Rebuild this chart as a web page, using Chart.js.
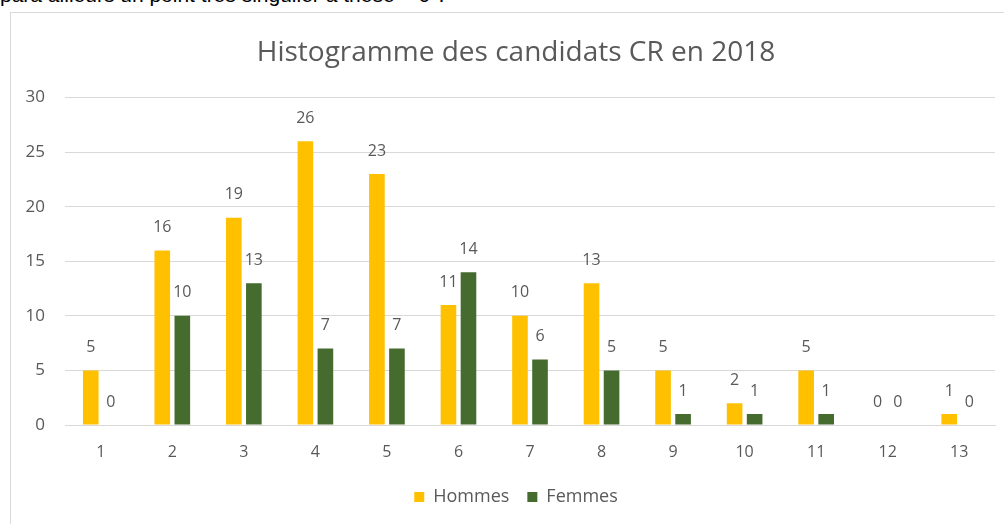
<!DOCTYPE html>
<html>
<head>
<meta charset="utf-8">
<script src="https://cdn.jsdelivr.net/npm/chart.js@4.4.1/dist/chart.umd.min.js"></script>
<style>
  html, body { margin: 0; padding: 0; background: #fff; width: 1004px; height: 524px; overflow: hidden; }
  body { position: relative; }
  #top { position: absolute; left: 0; top: -17px; font-family: "Liberation Sans", Arial, sans-serif; font-size: 21px; color: #000; white-space: nowrap; }
  #frame { position: absolute; left: 10px; top: 12px; width: 1000px; height: 520px; border: 1px solid #d9d9d9; box-sizing: border-box; }
  #wrap { position: absolute; left: 11px; top: 13px; width: 993px; height: 511px; }
</style>
</head>
<body>
<div id="top">para ailleurs un point très singulier à thèse = 0 ?</div>
<div id="frame"></div>
<div id="wrap"><canvas id="c"></canvas></div>
<script>
const categories = ["1","2","3","4","5","6","7","8","9","10","11","12","13"];
const hommes = [5,16,19,26,23,11,10,13,5,2,5,0,1];
const femmes = [0,10,13,7,7,14,6,5,1,1,1,0,0];
const yTicks = [0,5,10,15,20,25,30];
const title = "Histogramme des candidats CR en 2018";

const FONT = "'Open Sans', Lato, sans-serif";
const GRAY = "#595959";

const labelPlugin = {
  id: 'labels',
  afterDatasetsDraw(chart) {
    const ctx = chart.ctx;
    ctx.save();
    ctx.font = "16px " + FONT;
    ctx.fillStyle = GRAY;
    ctx.textAlign = "center";
    ctx.textBaseline = "middle";
    chart.data.datasets.forEach((ds, i) => {
      const meta = chart.getDatasetMeta(i);
      meta.data.forEach((el, j) => {
        ctx.fillText(String(ds.data[j]), el.x, el.y - 23);
      });
    });
    ctx.restore();
  }
};

new Chart(document.getElementById('c'), {
  type: 'bar',
  data: {
    labels: categories,
    datasets: [
      { label: "Hommes", data: hommes, backgroundColor: "#ffc000", barPercentage: 0.78, categoryPercentage: 0.56 },
      { label: "Femmes", data: femmes, backgroundColor: "#456b2e", barPercentage: 0.78, categoryPercentage: 0.56 }
    ]
  },
  options: {
    responsive: true,
    maintainAspectRatio: false,
    animation: false,
    layout: { padding: { left: 26, right: 9, top: 0, bottom: 8 } },
    plugins: {
      title: { display: true, text: title, color: GRAY, font: { family: FONT, size: 28, weight: 'normal' }, padding: { top: 23, bottom: 28 } },
      legend: {
        position: 'bottom',
        labels: { color: GRAY, font: { family: FONT, size: 18 }, boxWidth: 10, boxHeight: 10, padding: 18 }
      },
      tooltip: { enabled: false }
    },
    scales: {
      x: {
        grid: { display: false, drawTicks: false },
        border: { color: "#d9d9d9" },
        ticks: { color: GRAY, font: { family: FONT, size: 16 }, padding: 18 },
        afterFit(axis) { axis.height = 45; }
      },
      y: {
        min: 0, max: 30,
        afterBuildTicks(axis) { axis.ticks = yTicks.map(v => ({ value: v })); },
        grid: { color: "#d9d9d9", drawTicks: false },
        border: { display: false },
        ticks: { color: GRAY, font: { family: FONT, size: 17 }, padding: 20 },
        afterFit(axis) {
          axis.width = 28;
          axis._computeLabelArea = () => undefined;
        }
      }
    }
  },
  plugins: [labelPlugin]
});
</script>
</body>
</html>
